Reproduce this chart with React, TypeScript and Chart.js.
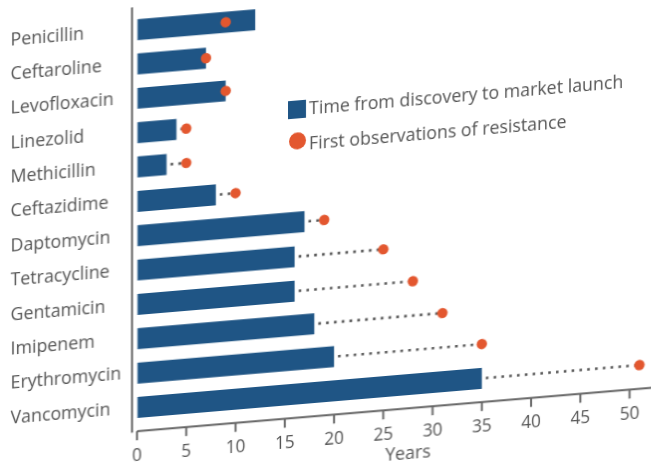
import React, { useEffect, useRef } from "react";
import { Chart, registerables } from "chart.js";

Chart.register(...registerables);

const drugs = [
  "Penicillin",
  "Ceftaroline",
  "Levofloxacin",
  "Linezolid",
  "Methicillin",
  "Ceftazidime",
  "Daptomycin",
  "Tetracycline",
  "Gentamicin",
  "Imipenem",
  "Erythromycin",
  "Vancomycin",
];
const yearsToMarket = [12, 7, 9, 4, 3, 8, 17, 16, 16, 18, 20, 35];
const yearsToResistance = [9, 7, 9, 5, 5, 10, 19, 25, 28, 31, 35, 51];
const seriesNames = ["Time from discovery to market launch", "First observations of resistance"];
const axisTitle = "Years";
const lastTick = 50;

const BAR = "#1F5585";
const DOT = "#E3572F";
const TEXT = "#555555";
const AXIS = "#666666";
const FONT = "'Open Sans', sans-serif";

const W = 684;
const H = 520;

const guides = {
  id: "guides",
  afterDatasetDraw(chart: any, args: any) {
    if (args.index !== 0) return;
    const { ctx, scales } = chart;
    const x = scales.x;
    const y = scales.y;
    ctx.save();
    ctx.strokeStyle = "#555";
    ctx.lineWidth = 2.6;
    ctx.setLineDash([2.6, 5.2]);
    drugs.forEach((_, i) => {
      const x0 = x.getPixelForValue(yearsToMarket[i]) + 4;
      const x1 = x.getPixelForValue(yearsToResistance[i]);
      if (x1 - x0 > 3) {
        const py = y.getPixelForValue(i);
        ctx.beginPath();
        ctx.moveTo(x0, py);
        ctx.lineTo(x1, py);
        ctx.stroke();
      }
    });
    ctx.restore();
  },
  afterDraw(chart: any) {
    const { ctx, chartArea, scales } = chart;
    const x = scales.x;
    const axisY = chartArea.bottom + 6.5;
    ctx.save();
    ctx.strokeStyle = AXIS;
    ctx.lineWidth = 2;
    ctx.beginPath();
    ctx.moveTo(chartArea.left - 5, chartArea.top - 5.5);
    ctx.lineTo(chartArea.left - 5, axisY + 1);
    ctx.stroke();
    ctx.beginPath();
    ctx.moveTo(chartArea.left, axisY);
    ctx.lineTo(W, axisY);
    ctx.stroke();
    x.ticks.forEach((t: any) => {
      if (t.value > lastTick) return;
      const px = x.getPixelForValue(t.value);
      ctx.beginPath();
      ctx.moveTo(px, axisY);
      ctx.lineTo(px, axisY + 9);
      ctx.stroke();
    });
    ctx.restore();
  },
};

export default function App() {
  const ref = useRef<HTMLCanvasElement>(null);
  useEffect(() => {
    if (!ref.current) return;
    const chart = new Chart(ref.current, {
      type: "bar",
      data: {
        labels: drugs,
        datasets: [
          {
            type: "bar",
            label: seriesNames[0],
            data: yearsToMarket,
            backgroundColor: BAR,
            barPercentage: 0.61,
            categoryPercentage: 1,
            order: 2,
          } as any,
          {
            type: "scatter",
            label: seriesNames[1],
            data: yearsToResistance.map((v, i) => ({ x: v, y: i })),
            backgroundColor: DOT,
            borderWidth: 0,
            pointRadius: 5.2,
            order: 1,
          } as any,
        ],
      },
      options: {
        indexAxis: "y",
        responsive: false,
        animation: false,
        devicePixelRatio: 1,
        layout: { padding: { left: 10.5, top: 12.5, right: 0, bottom: 0 } },
        plugins: { legend: { display: false }, tooltip: { enabled: false } },
        scales: {
          x: {
            type: "linear",
            min: 0,
            max: 55,
            grid: {
              display: true,
              drawOnChartArea: false,
              drawTicks: true,
              tickLength: 21,
              color: "rgba(0,0,0,0)",
            },
            border: { display: false },
            ticks: {
              stepSize: 5,
              includeBounds: false,
              padding: 0,
              color: TEXT,
              font: { family: FONT, size: 17.3 },
              callback: (v: any) => (v > lastTick ? "" : String(v)),
            },
            title: {
              display: true,
              text: axisTitle,
              color: TEXT,
              font: { family: FONT, size: 17.8 },
              padding: { top: 0, bottom: 32 },
            },
            afterFit: (s: any) => {
              s.height = H - 424.7;
              s.paddingRight = 0;
            },
          },
          y: {
            type: "category",
            offset: true,
            grid: { display: false, drawTicks: false },
            border: { display: false },
            ticks: {
              crossAlign: "far",
              padding: 0,
              color: TEXT,
              font: { family: FONT, size: 17.8 },
            },
            afterFit: (s: any) => {
              s.width = 126.5;
            },
          },
        },
      } as any,
      plugins: [guides],
    });
    return () => chart.destroy();
  }, []);

  const legendText: React.CSSProperties = {
    position: "absolute",
    left: 309,
    fontFamily: FONT,
    fontSize: 17.8,
    lineHeight: "20px",
    color: TEXT,
    whiteSpace: "nowrap",
  };

  return (
    <div
      style={{
        position: "fixed",
        left: 0,
        top: 0,
        width: 651,
        height: 466,
        overflow: "hidden",
        background: "#fff",
      }}
    >
      <div
        style={{
          position: "absolute",
          left: 0,
          top: 0,
          width: W,
          height: H,
          transform: "skewY(-4.83deg)",
          transformOrigin: "137px 0px",
        }}
      >
        <canvas ref={ref} width={W} height={H} style={{ display: "block", width: W, height: H }} />
        <div style={{ position: "absolute", left: 288, top: 114, width: 18, height: 18, background: BAR }} />
        <div style={{ ...legendText, top: 112 }}>{seriesNames[0]}</div>
        <div
          style={{
            position: "absolute",
            left: 288.5,
            top: 145.5,
            width: 17,
            height: 17,
            borderRadius: "50%",
            background: DOT,
          }}
        />
        <div style={{ ...legendText, top: 146.5 }}>{seriesNames[1]}</div>
      </div>
    </div>
  );
}
